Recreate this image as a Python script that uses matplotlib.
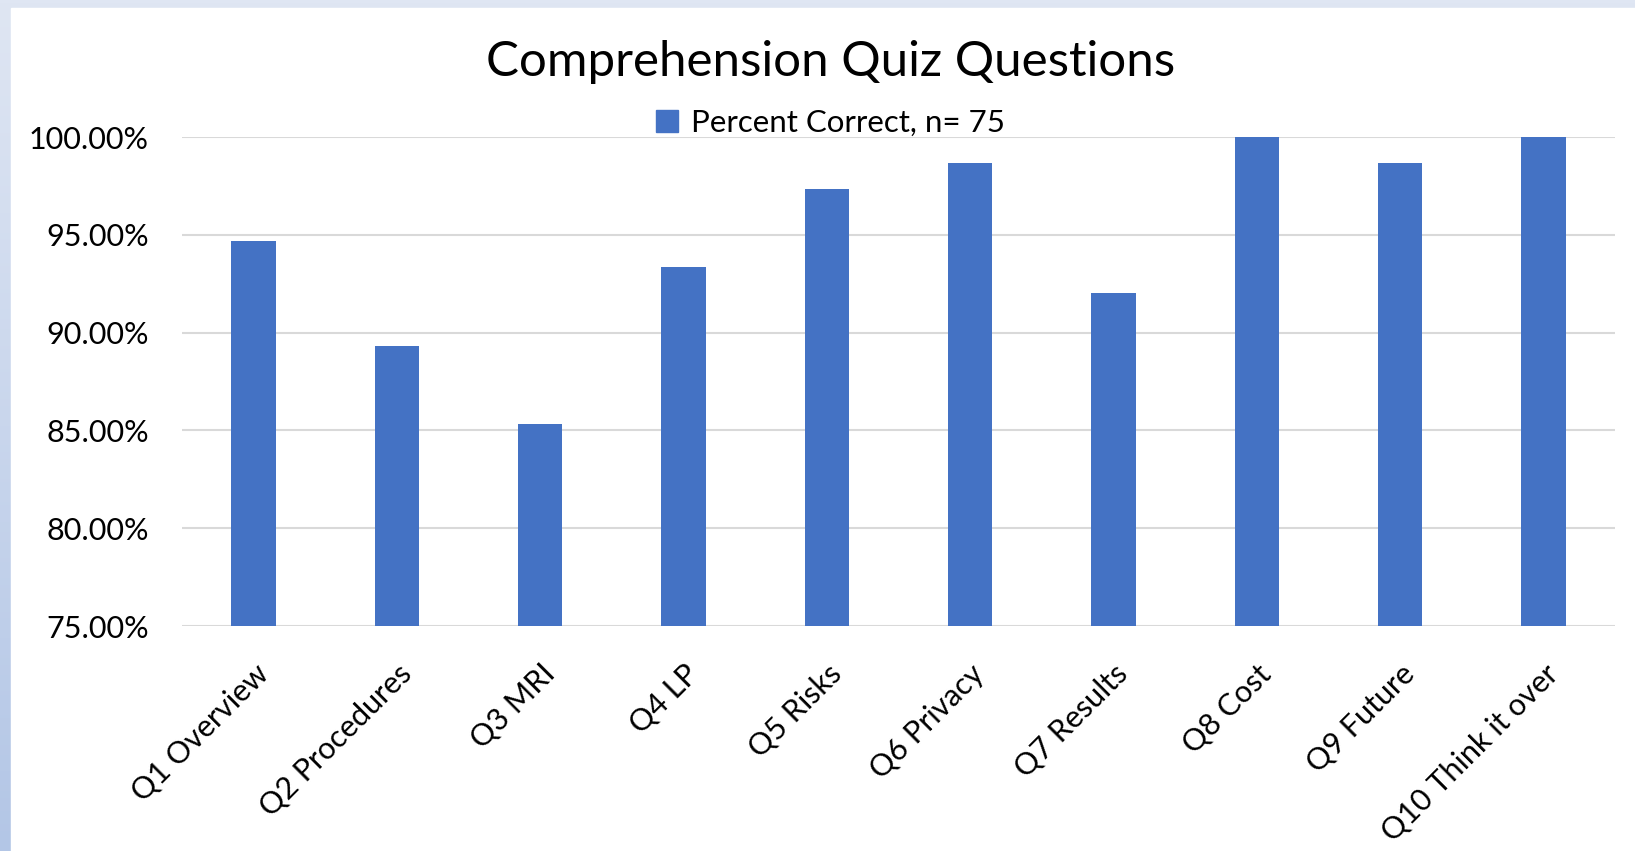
import numpy as np
import matplotlib
matplotlib.use("Agg")
import matplotlib.pyplot as plt
from matplotlib.patches import Rectangle, Patch
from matplotlib.ticker import PercentFormatter

plt.rcParams['font.family'] = ['Lato', 'DejaVu Sans']

# data
questions = ["Q1 Overview", "Q2 Procedures", "Q3 MRI", "Q4 LP", "Q5 Risks",
             "Q6 Privacy", "Q7 Results", "Q8 Cost", "Q9 Future", "Q10 Think it over"]
pct_correct = [94.67, 89.33, 85.33, 93.33, 97.33, 98.67, 92.00, 100.0, 98.67, 100.0]
y_ticks = [75, 80, 85, 90, 95, 100]

fig = plt.figure(figsize=(16.35, 8.51), dpi=100)

# light blue frame with gradient on the left
bg = fig.add_axes([0, 0, 1, 1], zorder=-10)
grad = np.linspace(0, 1, 256).reshape(-1, 1)
bg.imshow(grad, aspect='auto', extent=[0, 1, 0, 1], origin='lower',
          cmap=matplotlib.colors.LinearSegmentedColormap.from_list("bgc", ["#b3c6e6", "#dfe6f3"]))
bg.add_patch(Rectangle((11 / 1635, 0), 1, 1 - 8 / 851, color="white"))
bg.set_xlim(0, 1)
bg.set_ylim(0, 1)
bg.axis('off')

ax = fig.add_axes([182 / 1635, 1 - 626 / 851, (1615 - 182) / 1635, (626 - 137) / 851])
x = np.arange(len(questions))
ax.bar(x, pct_correct, width=0.31, color="#4472c4", zorder=3)

ax.set_ylim(75, 100)
ax.set_xlim(-0.5, len(questions) - 0.5)
ax.set_yticks(y_ticks)
ax.yaxis.set_major_formatter(PercentFormatter(decimals=2))
ax.grid(axis='y', color="#d9d9d9", linewidth=1.5, zorder=0)
for s in ax.spines.values():
    s.set_visible(False)
ax.tick_params(axis='both', length=0, labelsize=22, colors="#000000")
ax.tick_params(axis='y', pad=24)
ax.set_xticks(x)
ax.set_xticklabels(questions, rotation=45, ha='right', va='top', rotation_mode='anchor')
ax.tick_params(axis='x', pad=24)
ax.patch.set_alpha(0)

fig.text(0.508, 1 - 62 / 851, "Comprehension Quiz Questions", ha='center', va='center',
         fontsize=35.5, color="#000000")
fig.legend(handles=[Patch(color="#4472c4", label="Percent Correct, n= 75")],
           loc='center', bbox_to_anchor=(0.508, 1 - 123 / 851), frameon=False,
           fontsize=22.5, handlelength=0.7, handleheight=0.7, handletextpad=0.4)

fig.savefig("out.png", dpi=100)
